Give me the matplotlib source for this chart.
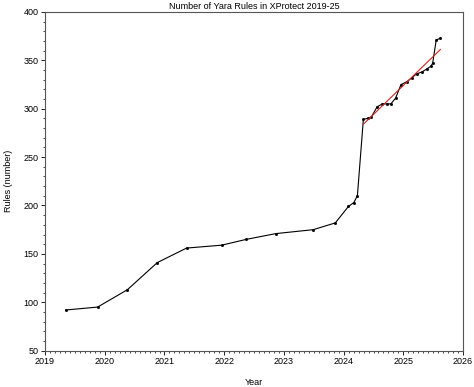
import numpy as np
import matplotlib
matplotlib.use("Agg")
from matplotlib import pyplot as plt
from matplotlib.ticker import MultipleLocator

plt.rcParams["font.family"] = ["Liberation Sans", "DejaVu Sans"]

# ---- data (decimal years, rule counts) ----
year = [2019.35, 2019.88, 2020.38, 2020.88, 2021.37, 2021.96, 2022.37, 2022.87,
        2023.49, 2023.86, 2024.08, 2024.17, 2024.23, 2024.33, 2024.40, 2024.46,
        2024.56, 2024.65, 2024.72, 2024.79, 2024.87, 2024.96, 2025.06, 2025.14,
        2025.22, 2025.31, 2025.39, 2025.46, 2025.49, 2025.55, 2025.62]
rules = [92, 95, 113, 141, 156, 159, 165, 171,
         175, 182, 199, 203, 210, 289, 290, 291,
         302, 305, 305, 305, 311, 325, 328, 332,
         336, 338, 341, 344, 347, 371, 373]

# trend over the 2024-25 jump onwards
fit_start = 13
year = np.array(year)
rules = np.array(rules)
coef = np.polyfit(year[fit_start:], rules[fit_start:], 1)
fit_x = np.array([year[fit_start], year[-1]])
fit_y = np.polyval(coef, fit_x)

fig = plt.figure(figsize=(4.74, 3.87), dpi=100)
ax = fig.add_axes([0.095, 0.094, 0.882, 0.875])

ax.plot(year, rules, color="black", lw=0.8, marker="s", ms=1.0)
ax.plot(fit_x, fit_y, color="#d62020", lw=0.8)

ax.set_xlim(2019, 2026)
ax.set_ylim(50, 400)
ax.xaxis.set_major_locator(MultipleLocator(1))
ax.xaxis.set_minor_locator(MultipleLocator(1 / 12))
ax.yaxis.set_major_locator(MultipleLocator(50))
ax.yaxis.set_minor_locator(MultipleLocator(10))
ax.xaxis.set_major_formatter(matplotlib.ticker.FormatStrFormatter("%d"))
ax.tick_params(which="major", direction="out", length=3, width=0.6, labelsize=6.5, pad=1.5)
ax.tick_params(which="minor", direction="out", length=1.5, width=0.5)
for s in ax.spines.values():
    s.set_linewidth(0.8)
    s.set_color("#555555")

ax.set_xlabel("Year", fontsize=6.5, labelpad=9)
ax.set_ylabel("Rules (number)", fontsize=6.5, labelpad=8)
ax.set_title("Number of Yara Rules in XProtect 2019-25", fontsize=6.5, pad=2)

fig.savefig("out.png", dpi=100)
